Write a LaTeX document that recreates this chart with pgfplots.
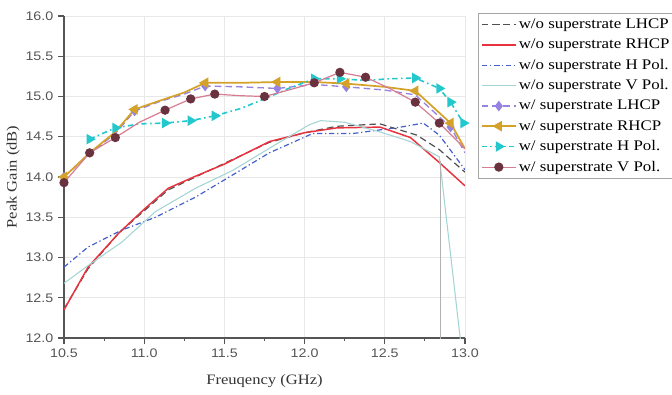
\documentclass[border=0pt]{standalone}
\usepackage{fontspec}
\setmainfont{Liberation Serif}[FakeStretch=1.15]
\setsansfont{Liberation Sans}[FakeStretch=1.15]
\newfontfamily\legfont{Liberation Serif}[FakeStretch=1.15]
\usepackage{pgfplots}
\pgfplotsset{compat=1.18}
\definecolor{axgray}{RGB}{85,85,85}
\definecolor{cLHo}{RGB}{80,80,80}
\definecolor{cRHo}{RGB}{232,50,62}
\definecolor{cHo}{RGB}{70,95,205}
\definecolor{cVo}{RGB}{165,212,212}
\definecolor{cLHw}{RGB}{150,130,225}
\definecolor{cRHw}{RGB}{212,162,40}
\definecolor{cHw}{RGB}{35,200,205}
\definecolor{cVwl}{RGB}{215,125,145}
\definecolor{cVwm}{RGB}{105,50,62}
\begin{document}
\begin{tikzpicture}
\path[use as bounding box] (-48pt,-42pt) rectangle (456pt,253.5pt);
\begin{axis}[
  scale only axis, width=300.75pt, height=241.5pt,
  xmin=10.5, xmax=13.0, ymin=12, ymax=16,
  xtick={10.5,11,11.5,12,12.5,13}, ytick={12,12.5,13,13.5,14,14.5,15,15.5,16},
  minor x tick num=1,
  axis x line=bottom, axis y line=left,
  axis line style={-, draw=axgray, line width=0.8pt},
  tick style={draw=axgray, line width=0.8pt},
  tick align=outside, major tick length=4.5pt, minor tick length=2.5pt,
  grid=major, grid style={draw=gray!18, line width=0.7pt},
  /pgf/number format/assume math mode=true,
  /pgf/number format/.cd, fixed, fixed zerofill, precision=1, /pgfplots/.cd,
  tick label style={font=\sffamily\fontsize{9.3}{10}\selectfont, text=axgray},
  xlabel={Freuqency (GHz)}, ylabel={Peak Gain (dB)},
  label style={font=\fontsize{10.8}{12}\selectfont, text=black!80},
  xlabel style={at={(axis description cs:0.5,-0.134)}, anchor=center},
  ylabel style={at={(axis description cs:-0.127,0.5)}, anchor=center},
  clip=true,
  legend style={at={(1.032,1.009)}, anchor=north west, draw=gray!70, line width=0.6pt,
    font=\legfont\fontsize{11}{12}\selectfont, row sep=2.3pt, inner sep=2pt,
    nodes={inner xsep=1.5pt},
    legend cell align=left},
  legend image code/.code={\draw[#1, mark indices={2}] plot coordinates {(0cm,0cm) (0.45cm,0cm) (0.9cm,0cm)};},
]
% w/o superstrate LHCP
\addplot[cLHo, line width=0.9pt, dash pattern=on 5pt off 3pt] coordinates {
 (10.5,12.36) (10.65,12.86) (10.84,13.30) (11.0,13.58) (11.15,13.84) (11.32,14.00)
 (11.5,14.17) (11.78,14.43) (12.0,14.55) (12.2,14.63) (12.47,14.66) (12.7,14.52) (12.84,14.34) (13.0,14.06)};
\addlegendentry{w/o superstrate LHCP}
% w/o superstrate RHCP
\addplot[cRHo, line width=1.1pt] coordinates {
 (10.5,12.35) (10.65,12.88) (10.84,13.30) (11.0,13.60) (11.15,13.86) (11.32,14.01)
 (11.5,14.16) (11.78,14.44) (12.0,14.55) (12.2,14.61) (12.47,14.62) (12.66,14.49) (12.84,14.18) (13.0,13.89)};
\addlegendentry{w/o superstrate RHCP}
% w/o superstrate H Pol.
\addplot[cHo, line width=0.9pt, dash pattern=on 4pt off 2pt on 1pt off 2pt] coordinates {
 (10.5,12.88) (10.65,13.13) (10.86,13.34) (11.07,13.50) (11.32,13.75) (11.53,14.00)
 (11.78,14.30) (12.05,14.54) (12.3,14.54) (12.6,14.62) (12.74,14.67) (12.84,14.52) (13.0,14.09)};
\addlegendentry{w/o superstrate H Pol.}
% w/o superstrate V Pol.
\addplot[cVo, line width=0.8pt] coordinates {
 (10.5,12.68) (10.65,12.90) (10.86,13.19) (11.07,13.57) (11.32,13.86) (11.55,14.08)
 (11.8,14.38) (12.03,14.65) (12.1,14.70) (12.25,14.68) (12.47,14.56) (12.66,14.44) (12.84,14.25) (12.97,12.0) (13.0,11.6)};
\addlegendentry{w/o superstrate V Pol.}
\addplot[forget plot, gray!60, line width=0.8pt] coordinates {(12.85,14.2) (12.85,11.5)};
% w/ superstrate LHCP
\addplot[cLHw, line width=1.0pt, dash pattern=on 5pt off 3pt, mark=diamond*, mark size=3.2pt,
  mark options={solid, fill=cLHw, draw=cLHw}, mark indices={1,4,7,9,11,14}] coordinates {
 (10.5,14.0) (10.66,14.29) (10.82,14.54) (10.94,14.82) (11.1,14.94) (11.25,15.03) (11.38,15.13)
 (11.6,15.12) (11.83,15.10) (12.06,15.15) (12.26,15.12) (12.5,15.08) (12.69,15.02) (12.91,14.62) (13.0,14.30)};
\addlegendentry{w/ superstrate LHCP}
% w/ superstrate RHCP
\addplot[cRHw, line width=1.3pt, mark=triangle*, mark size=3.4pt,
  mark options={rotate=90, fill=cRHw, draw=cRHw}, mark indices={1,4,7,9,11,13,14}] coordinates {
 (10.5,14.0) (10.66,14.30) (10.82,14.56) (10.94,14.84) (11.1,14.95) (11.25,15.05) (11.38,15.17)
 (11.6,15.17) (11.83,15.18) (12.06,15.18) (12.26,15.16) (12.5,15.12) (12.69,15.07) (12.91,14.67) (13.0,14.35)};
\addlegendentry{w/ superstrate RHCP}
% w/ superstrate H Pol.
\addplot[cHw, line width=1.2pt, dash pattern=on 4pt off 2.5pt on 1.2pt off 2.5pt, mark=triangle*, mark size=3.4pt,
  mark options={solid, rotate=-90, fill=cHw, draw=cHw}, mark indices={1,2,4,5,6,10,11,14,15,16,17}] coordinates {
 (10.66,14.47) (10.82,14.61) (10.97,14.66) (11.13,14.67) (11.29,14.70) (11.44,14.76) (11.6,14.85)
 (11.75,14.97) (11.9,15.10) (12.06,15.22) (12.22,15.22) (12.38,15.20) (12.53,15.22) (12.69,15.23)
 (12.84,15.10) (12.91,14.93) (12.99,14.67)};
\addlegendentry{w/ superstrate H Pol.}
% w/ superstrate V Pol.
\addplot[cVwl, line width=0.9pt, mark=*, mark size=3.0pt,
  mark options={fill=cVwm, draw=cVwm}, mark indices={1,2,3,5,6,7,9,11,12,13,15,16}] coordinates {
 (10.5,13.93) (10.66,14.30) (10.82,14.49) (10.97,14.68) (11.13,14.83) (11.29,14.97) (11.44,15.03)
 (11.6,15.01) (11.75,15.00) (11.9,15.08) (12.06,15.17) (12.22,15.30) (12.38,15.24) (12.53,15.10)
 (12.69,14.93) (12.84,14.67) (13.0,14.35)};
\addlegendentry{w/ superstrate V Pol.}
\end{axis}
\end{tikzpicture}
\end{document}
